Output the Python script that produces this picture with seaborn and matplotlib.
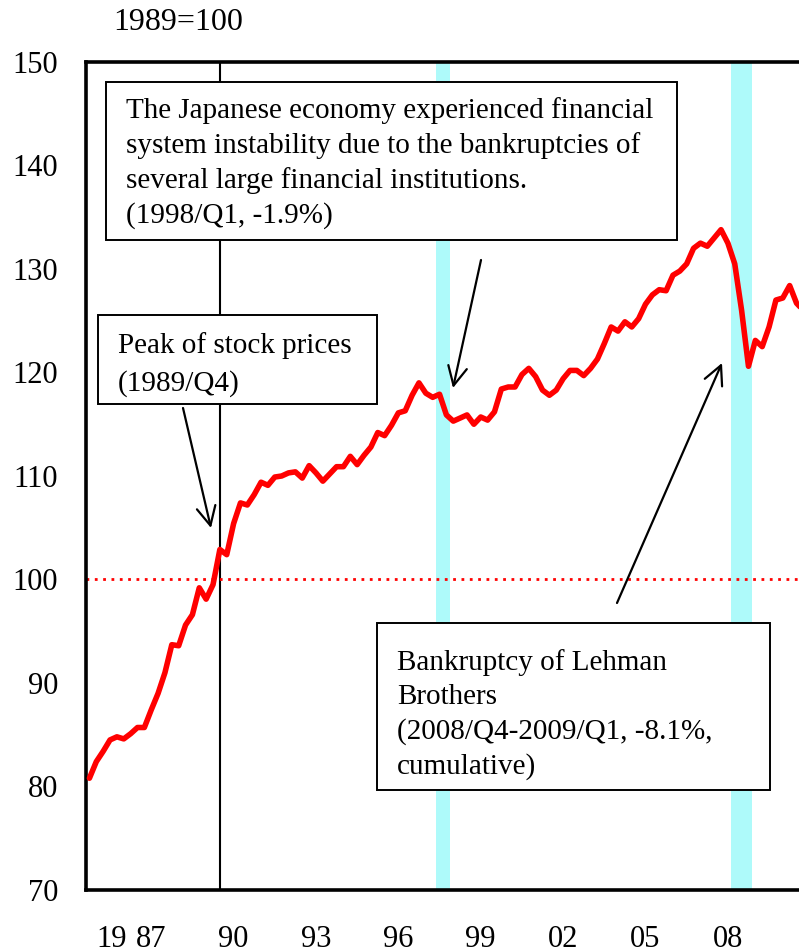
import numpy as np
import pandas as pd
import matplotlib
matplotlib.use("Agg")
import matplotlib.pyplot as plt
import seaborn as sns
from matplotlib.patches import Rectangle

# ---------------- data ----------------
quarters = [f"{1985 + i // 4}/Q{i % 4 + 1}" for i in range(105)]  # 1985/Q1 ... 2011/Q1
gdp_index = [
    80.8, 82.4, 83.4, 84.5, 84.8, 84.6, 85.1, 85.7, 85.7, 87.4,
    89.0, 91.0, 93.7, 93.6, 95.6, 96.6, 99.2, 98.1, 99.5, 102.9,
    102.4, 105.4, 107.4, 107.2, 108.2, 109.4, 109.1, 109.9, 110.0, 110.3,
    110.4, 109.8, 111.0, 110.3, 109.5, 110.2, 110.9, 110.9, 111.9, 111.1,
    112.0, 112.8, 114.2, 113.9, 114.9, 116.1, 116.3, 117.8, 119.0, 118.0,
    117.6, 117.9, 115.9, 115.3, 115.6, 115.9, 115.0, 115.7, 115.4, 116.2,
    118.4, 118.6, 118.6, 119.8, 120.4, 119.6, 118.3, 117.8, 118.3, 119.4,
    120.2, 120.2, 119.7, 120.4, 121.3, 122.8, 124.4, 124.0, 124.9, 124.4,
    125.2, 126.6, 127.5, 128.0, 127.9, 129.4, 129.8, 130.5, 132.0, 132.5,
    132.2, 133.0, 133.8, 132.5, 130.5, 126.0, 120.6, 123.1, 122.5, 124.4,
    127.0, 127.2, 128.4, 126.7, 126.0,
]
tick_years = ["87", "90", "93", "96", "99", "02", "05", "08"]
tick_quarters = ["1987/Q2", "1990/Q2", "1993/Q2", "1996/Q2", "1999/Q2",
                 "2002/Q2", "2005/Q2", "2008/Q2"]
y_ticks = [70, 80, 90, 100, 110, 120, 130, 140, 150]
band_start = ["1997/Q4", "2008/Q3"]
band_end = ["1998/Q1", "2009/Q1"]
peak_quarter = "1989/Q4"
base_level = 100

text_crisis = ("The Japanese economy experienced financial\n"
               "system instability due to the bankruptcies of\n"
               "several large financial institutions.\n"
               "(1998/Q1, -1.9%)")
text_peak = "Peak of stock prices\n(1989/Q4)"
text_lehman = ("Bankruptcy of Lehman\nBrothers\n"
               "(2008/Q4-2009/Q1, -8.1%,\ncumulative)")

df = pd.DataFrame({"q": np.arange(len(quarters)), "v": gdp_index})
qidx = {q: i for i, q in enumerate(quarters)}

# ---------------- figure ----------------
sns.set_theme(style="white")
plt.rcParams["font.family"] = ["Liberation Serif", "DejaVu Serif"]
plt.rcParams["text.color"] = "black"
plt.rcParams["xtick.color"] = "black"
plt.rcParams["ytick.color"] = "black"

W, H = 799, 952
fig = plt.figure(figsize=(W / 100, H / 100), dpi=100)
L, R, T, B = 86, 799, 62, 890
ax = fig.add_axes([L / W, 1 - B / H, (R - L) / W, (B - T) / H])

xmin = -0.5
xmax = (R - L) / 6.865 - 0.5
ax.set_xlim(xmin, xmax)
ax.set_ylim(70, 150)

def px(x, y):
    """pixel -> data coordinates (for annotation layout only)"""
    d = xmin + (x - L) / (R - L) * (xmax - xmin)
    v = 150 - (y - T) / (B - T) * 80
    return d, v

for s, e in zip(band_start, band_end):
    ax.axvspan(qidx[s] - 0.5, qidx[e] + 0.5, color="#aefafa", lw=0, zorder=1)

ax.axvline(qidx[peak_quarter], color="black", lw=1.5, zorder=2)
ax.axhline(base_level, color="red", lw=2.0, ls=(0, (1, 2)), zorder=2)

sns.lineplot(data=df, x="q", y="v", color="red", lw=4.0, ax=ax, zorder=3)

ax.set_xlabel("")
ax.set_ylabel("")
ax.set_yticks(y_ticks)
ax.set_yticklabels([str(t) for t in y_ticks])
ax.set_xticks([qidx[q] for q in tick_quarters])
ax.set_xticklabels(tick_years)
ax.tick_params(axis="y", direction="in", length=6, width=2, labelsize=22, pad=20,
               colors="black")
ax.tick_params(axis="x", length=0, labelsize=22, pad=25, colors="black")

for side in ["left", "top", "bottom"]:
    ax.spines[side].set_linewidth(2.6)
    ax.spines[side].set_color("black")
ax.spines["right"].set_visible(False)

# "19" prefix before first year tick
fig.canvas.draw()
tl_bb = ax.get_xticklabels()[0].get_window_extent()
fx, _ = px(112, 0)
ax.text(fx, tl_bb.y1, "19", fontsize=22, ha="center", va="top",
        transform=matplotlib.transforms.blended_transform_factory(
            ax.transData, matplotlib.transforms.IdentityTransform()))

fig.text(178 / W, 1 - 23 / H, "1989=100", fontsize=23, ha="center", va="center")

def box(x0, y0, x1, y1):
    a0, b0 = px(x0, y1)
    a1, b1 = px(x1, y0)
    ax.add_patch(Rectangle((a0, b0), a1 - a0, b1 - b0, facecolor="white",
                           edgecolor="black", lw=1.4, zorder=5, clip_on=False))

LS = 1.39
box(106, 82, 677, 240)
ax.text(*px(126, 97), text_crisis, fontsize=21, ha="left", va="top",
        linespacing=LS, zorder=6)

box(98, 315, 377, 404)
ax.text(*px(118, 332), text_peak, fontsize=21, ha="left", va="top",
        linespacing=1.55, zorder=6)

box(377, 623, 770, 790)
ax.text(*px(397, 649), text_lehman, fontsize=21, ha="left", va="top",
        linespacing=LS, zorder=6)

arrow = dict(arrowstyle="->", color="black", lw=1.6, mutation_scale=34,
             shrinkA=0, shrinkB=0)
ax.annotate("", xy=px(453, 388), xytext=px(481, 260), arrowprops=arrow, zorder=6)
ax.annotate("", xy=px(211, 528), xytext=px(183, 408), arrowprops=arrow, zorder=6)
ax.annotate("", xy=px(722, 363), xytext=px(617, 603), arrowprops=arrow, zorder=6)

fig.savefig("out.png", dpi=100)
